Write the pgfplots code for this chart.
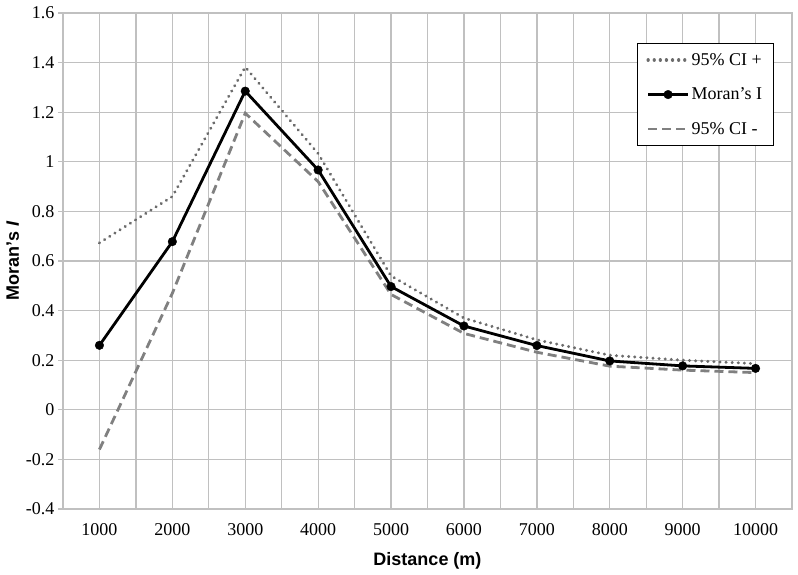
\documentclass[border=0pt]{standalone}
\usepackage{fontspec}
\setmainfont{Liberation Serif}
\setsansfont{Liberation Sans}
\usepackage{pgfplots}
\pgfplotsset{compat=1.18}

\definecolor{gridgray}{RGB}{192,192,192}
\definecolor{ciplus}{RGB}{108,108,108}
\definecolor{ciminus}{RGB}{128,128,128}

\begin{document}
\begin{tikzpicture}[font=\fontsize{18}{21}\selectfont]
\begin{axis}[
  name=ax,
  scale only axis,
  width=729pt, height=496pt,
  xmin=0.5, xmax=10.5,
  ymin=-0.4, ymax=1.6,
  xtick={1,2,3,4,5,6,7,8,9,10},
  xticklabels={1000,2000,3000,4000,5000,6000,7000,8000,9000,10000},
  minor xtick={0.5,1.5,2.5,3.5,4.5,5.5,6.5,7.5,8.5,9.5,10.5},
  ytick={-0.4,-0.2,0,0.2,0.4,0.6,0.8,1,1.2,1.4,1.6},
  yticklabels={\textrm{-0.4},\textrm{-0.2},\textrm{0},\textrm{0.2},\textrm{0.4},\textrm{0.6},\textrm{0.8},\textrm{1},\textrm{1.2},\textrm{1.4},\textrm{1.6}},
  grid=both,
  major grid style={gridgray, line width=1.3pt},
  minor grid style={gridgray, line width=1.3pt},
  axis line style={gridgray, line width=1.3pt},
  tick align=outside,
  tick pos=left,
  x tick style={draw=none},
  minor x tick style={gridgray, line width=1.3pt},
  minor tick length=5pt,
  y tick style={gridgray, line width=1.3pt},
  major tick length=5pt,
  xticklabel style={yshift=-6pt},
  xlabel={\sffamily\bfseries Distance (m)},
  ylabel={\sffamily\bfseries Moran’s \textit{I}},
  xlabel style={yshift=-10pt},
  legend cell align={left},
  legend style={
    at={(0.975,0.94)}, anchor=north east,
    draw=black, line width=1.2pt, fill=white,
    row sep=17pt, inner xsep=9pt, inner ysep=8pt,
    font=\fontsize{18}{21}\selectfont,
  },
  legend image code/.code={
    \draw[mark repeat=2,mark phase=2,#1] plot coordinates {(0pt,0pt) (20pt,0pt) (40pt,0pt)};
  },
]
\addplot[ciplus, line width=3.2pt, dash pattern=on 0.1pt off 6pt, line cap=round] coordinates {
  (1,0.673) (2,0.860) (3,1.382) (4,1.033) (5,0.540)
  (6,0.370) (7,0.282) (8,0.220) (9,0.200) (10,0.186)
};
\addlegendentry{95\% CI +}
\addplot[black, line width=2.8pt, mark=*, mark size=4.3pt, mark options={solid, line width=0.4pt}] coordinates {
  (1,0.260) (2,0.678) (3,1.285) (4,0.967) (5,0.497)
  (6,0.338) (7,0.259) (8,0.197) (9,0.177) (10,0.167)
};
\addlegendentry{Moran’s I}
\addplot[ciminus, line width=2.8pt, dash pattern=on 9pt off 5pt] coordinates {
  (1,-0.160) (2,0.470) (3,1.196) (4,0.920) (5,0.465)
  (6,0.308) (7,0.232) (8,0.176) (9,0.160) (10,0.150)
};
\addlegendentry{95\% CI -}
\end{axis}
\path ([xshift=-63pt,yshift=-66pt]ax.south west) rectangle ([xshift=6pt,yshift=13pt]ax.north east);
\end{tikzpicture}
\end{document}
